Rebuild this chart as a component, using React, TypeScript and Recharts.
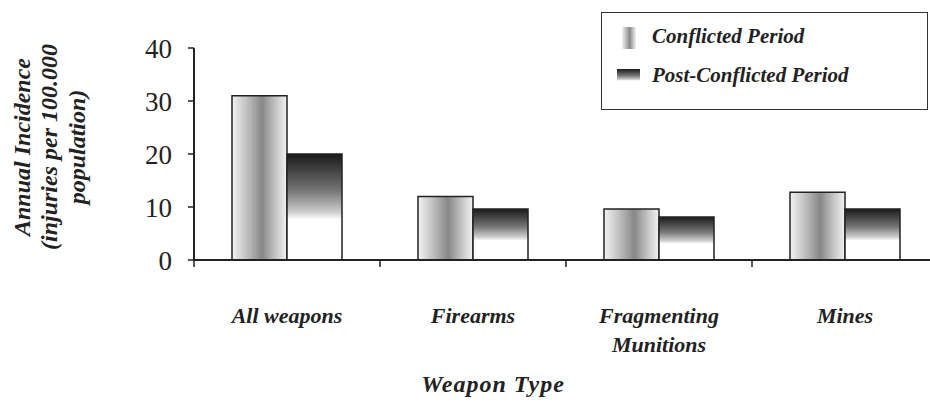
import React from "react"
import { Bar, BarChart, XAxis, YAxis } from "recharts"

// values
const categories = ["All weapons", "Firearms", "Fragmenting Munitions", "Mines"]
const conflicted = [31, 12, 9.6, 12.8]
const postConflicted = [20, 9.6, 8.1, 9.6]
const yTicks = [0, 10, 20, 30, 40]

const data = categories.map((name, i) => ({
  name,
  conflicted: conflicted[i],
  postConflicted: postConflicted[i],
}))

const FONT = "'Liberation Serif', serif"
const INK = "#222"

function CategoryTick(props: any) {
  const { x, y, payload } = props
  const off = payload.offset ?? 0
  const lines: string[] =
    payload.value === "Fragmenting Munitions" ? ["Fragmenting", "Munitions"] : [payload.value]
  return (
    <g>
      <line x1={x - off} x2={x - off} y1={y} y2={y + 7} stroke={INK} strokeWidth={1.5} />
      <text
        x={x}
        y={y + 63}
        textAnchor="middle"
        fontFamily={FONT}
        fontStyle="italic"
        fontWeight="bold"
        fontSize={22}
        fill={INK}
      >
        {lines.map((l, i) => (
          <tspan key={l} x={x} dy={i === 0 ? 0 : 29}>
            {l}
          </tspan>
        ))}
      </text>
    </g>
  )
}

function YLabel() {
  return (
    <text
      transform="translate(49,147) rotate(-90)"
      textAnchor="middle"
      fontFamily={FONT}
      fontStyle="italic"
      fontWeight="bold"
      fontSize={24}
      fill={INK}
    >
      <tspan x={0} dy={-19}>Annual Incidence</tspan>
      <tspan x={0} dy={27}>(injuries per 100.000</tspan>
      <tspan x={0} dy={28}>population)</tspan>
    </text>
  )
}

function Gradients() {
  return (
    <defs>
      <linearGradient id="gradConf" x1="0" y1="0" x2="1" y2="0">
        <stop offset="0" stopColor="#f2f2f2" />
        <stop offset="0.25" stopColor="#c4c4c4" />
        <stop offset="0.55" stopColor="#878787" />
        <stop offset="0.8" stopColor="#c6c6c6" />
        <stop offset="1" stopColor="#f2f2f2" />
      </linearGradient>
      <linearGradient id="gradPost" x1="0" y1="0" x2="0" y2="1">
        <stop offset="0" stopColor="#1a1a1a" />
        <stop offset="0.12" stopColor="#3a3a3a" />
        <stop offset="0.35" stopColor="#777" />
        <stop offset="0.55" stopColor="#cfcfcf" />
        <stop offset="0.62" stopColor="#fff" />
        <stop offset="1" stopColor="#fff" />
      </linearGradient>
    </defs>
  )
}

function LegendBox() {
  const textStyle: React.CSSProperties = {
    position: "absolute",
    left: 50,
    fontFamily: FONT,
    fontStyle: "italic",
    fontWeight: "bold",
    fontSize: 21,
    color: INK,
    whiteSpace: "nowrap",
  }
  return (
    <div
      style={{
        position: "absolute",
        left: 601,
        top: 12,
        width: 325,
        height: 96,
        border: "1.5px solid #333",
        background: "#fff",
      }}
    >
      <svg width={60} height={96} style={{ position: "absolute", left: 0, top: 0 }}>
        <Gradients />
        <rect x={20} y={14} width={14} height={22} fill="url(#gradConf)" />
        <rect x={15} y={56} width={23} height={19} fill="url(#gradPost)" />
      </svg>
      <div style={{ ...textStyle, top: 11 }}>Conflicted Period</div>
      <div style={{ ...textStyle, top: 50 }}>Post-Conflicted Period</div>
    </div>
  )
}

export default function App() {
  return (
    <div style={{ position: "absolute", left: 0, top: 0, width: 930, height: 402, background: "#fff", overflow: "hidden" }}>
      <BarChart
        width={930}
        height={402}
        data={data}
        margin={{ top: 48, right: -8, bottom: 112, left: 0 }}
        barSize={55}
        barGap={0}
      >
        <Gradients />
        <XAxis
          dataKey="name"
          height={30}
          axisLine={{ stroke: INK, strokeWidth: 2 }}
          tickLine={false}
          tickSize={0}
          tickMargin={0}
          interval={0}
          tick={<CategoryTick />}
        />
        <YAxis
          width={194}
          domain={[0, 40]}
          ticks={yTicks}
          axisLine={{ stroke: INK, strokeWidth: 2 }}
          tickLine={{ stroke: INK, strokeWidth: 1.5 }}
          tickSize={6}
          tickMargin={16}
          tick={{ fill: INK, fontSize: 27, fontFamily: FONT }}
          label={{ content: <YLabel /> }}
        />
        <Bar dataKey="conflicted" fill="url(#gradConf)" stroke={INK} strokeWidth={1.5} isAnimationActive={false} />
        <Bar dataKey="postConflicted" fill="url(#gradPost)" stroke={INK} strokeWidth={1.5} isAnimationActive={false} />
      </BarChart>
      <LegendBox />
      <div
        style={{
          position: "absolute",
          left: 493,
          top: 371,
          transform: "translateX(-50%)",
          fontFamily: FONT,
          fontStyle: "italic",
          fontWeight: "bold",
          fontSize: 24,
          letterSpacing: 1,
          color: INK,
          whiteSpace: "nowrap",
        }}
      >
        Weapon Type
      </div>
    </div>
  )
}
